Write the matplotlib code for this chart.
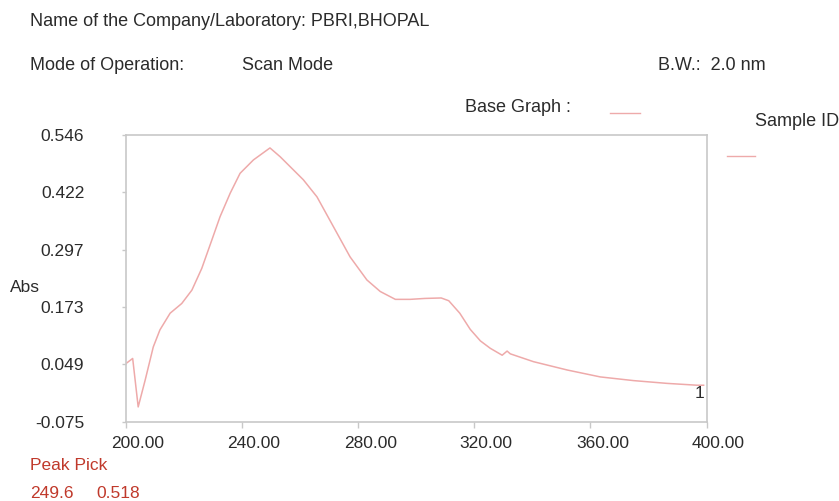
import numpy as np
import matplotlib
matplotlib.use("Agg")
from matplotlib import pyplot as plt
from matplotlib import transforms

plt.rcParams['font.family'] = ['Liberation Sans', 'DejaVu Sans']

# scan spectrum (wavelength nm, absorbance)
wavelength = [200.0, 202.3, 204.2, 206.6, 209.4, 211.7, 215.2, 219.2, 222.7, 226.1,
              229.6, 232.4, 235.9, 239.3, 243.9, 249.6, 253.1, 261.1, 265.8, 271.5,
              277.2, 283.0, 287.6, 292.8, 297.9, 303.0, 308.6, 311.2, 315.0, 318.6,
              322.1, 325.5, 329.6, 331.3, 332.4, 340.4, 352.0, 363.4, 374.9, 386.4,
              396.8, 399.0]
absorbance = [0.051, 0.062, -0.043, 0.015, 0.087, 0.124, 0.160, 0.181, 0.210, 0.257,
              0.319, 0.369, 0.420, 0.463, 0.492, 0.518, 0.499, 0.449, 0.412, 0.347,
              0.282, 0.232, 0.207, 0.190, 0.190, 0.192, 0.193, 0.187, 0.160, 0.125,
              0.100, 0.084, 0.069, 0.078, 0.072, 0.055, 0.037, 0.022, 0.014, 0.008,
              0.004, 0.004]

x_ticks = [200, 240, 280, 320, 360, 400]
y_ticks = [-0.075, 0.049, 0.173, 0.297, 0.422, 0.546]
peak_nm, peak_abs = 249.6, 0.518

W, H = 839, 501
fig = plt.figure(figsize=(W / 100, H / 100), dpi=100)
fig.patch.set_facecolor('white')

txt = '#2b2b2b'
red = '#c0392b'
curve = '#eeaaaa'
fs = 12.5
hfs = 13


def ftext(px, py, s, **kw):
    kw.setdefault('color', txt)
    kw.setdefault('fontsize', hfs)
    kw.setdefault('va', 'center')
    fig.text(px / W, 1 - py / H, s, **kw)


ftext(30, 22, 'Name of the Company/Laboratory: PBRI,BHOPAL')
ftext(30, 65, 'Mode of Operation:')
ftext(242, 65, 'Scan Mode')
ftext(658, 65, 'B.W.:  2.0 nm')
ftext(465, 108, 'Base Graph :')
ftext(755, 122, 'Sample ID')
ftext(10, 288, 'Abs', fontsize=fs)
ftext(30, 465, 'Peak Pick', color=red, fontsize=fs)
ftext(30, 493, '%.1f' % peak_nm, color=red, fontsize=fs)
ftext(96, 493, '%.3f' % peak_abs, color=red, fontsize=fs)

# legend swatches
fig.add_artist(plt.Line2D([610 / W, 640 / W], [1 - 113 / H] * 2, color=curve, lw=1))
fig.add_artist(plt.Line2D([727 / W, 755 / W], [1 - 156 / H] * 2, color=curve, lw=1))

ax = fig.add_axes([126 / W, 1 - 421.7 / H, 580.5 / W, 286.7 / H])
ax.plot(wavelength, absorbance, color=curve, lw=1.1)
ax.text(399.3, -0.0135, '1', ha='right', va='center', color=txt, fontsize=fs)

ax.set_xlim(200, 400)
ax.set_ylim(-0.075, 0.546)
ax.set_xticks(x_ticks)
ax.set_xticklabels(['%.2f' % v for v in x_ticks])
ax.set_yticks(y_ticks)
ax.set_yticklabels(['%.3f' % v for v in y_ticks])

for s in ax.spines.values():
    s.set_color('#c8c8c8')
    s.set_linewidth(1.2)
ax.tick_params(axis='both', colors='#c8c8c8', labelcolor=txt, labelsize=fs,
               width=1)
ax.tick_params(axis='x', length=4, pad=6)
ax.tick_params(axis='y', length=3, pad=27)

shift = transforms.ScaledTranslation(12 / 100, 0, fig.dpi_scale_trans)
for lab in ax.get_xticklabels():
    lab.set_transform(lab.get_transform() + shift)

fig.savefig('out.png', dpi=100)
